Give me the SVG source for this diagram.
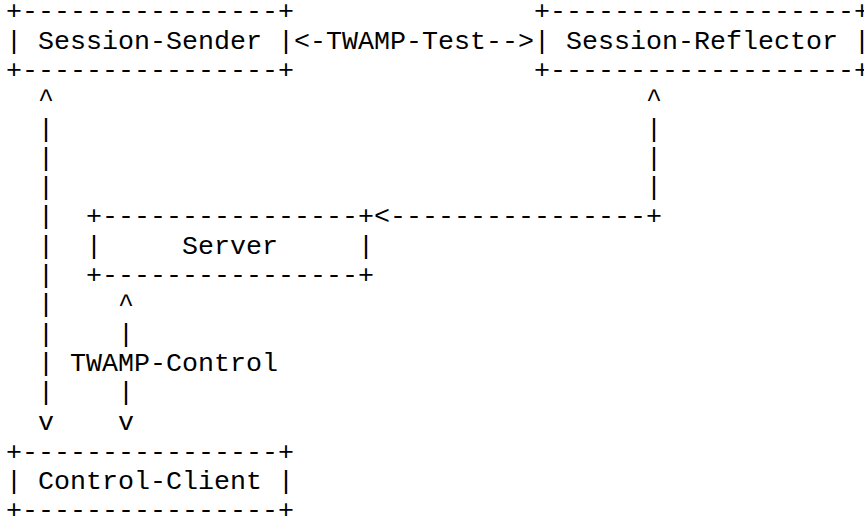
<svg xmlns="http://www.w3.org/2000/svg" width="864" height="517" viewBox="0 0 864 517">
<style>
text{font-family:"Liberation Mono","Courier New",monospace;font-size:26.667px;fill:#000;white-space:pre}
</style>
<rect width="864" height="517" fill="#fff"/>
<g id="session-sender">
<text x="6" y="19.2">+----------------+</text>
<text x="6" y="48.55">| Session-Sender |</text>
<text x="6" y="77.9">+----------------+</text>
</g>
<g id="session-reflector">
<text x="534" y="19.2">+-------------------+</text>
<text x="534" y="48.55">| Session-Reflector |</text>
<text x="534" y="77.9">+-------------------+</text>
</g>
<g id="server">
<text x="86" y="224.3">+----------------+</text>
<text x="86" y="253.65">|     Server     |</text>
<text x="86" y="283">+----------------+</text>
</g>
<g id="control-client">
<text x="6" y="459.5">+----------------+</text>
<text x="6" y="488.85">| Control-Client |</text>
<text x="6" y="518.2">+----------------+</text>
</g>
<g id="connectors">
<g id="twamp-test">
<text x="294" y="48.55">&lt;-TWAMP-Test--&gt;</text>
</g>
<g id="sender-client">
<text x="38" y="107.25">^</text>
<text x="38" y="136.6">|</text>
<text x="38" y="165.95">|</text>
<text x="38" y="195.3">|</text>
<text x="38" y="224.3">|</text>
<text x="38" y="253.65">|</text>
<text x="38" y="283">|</text>
<text x="38" y="312.35">|</text>
<text x="38" y="341.7">|</text>
<text x="38" y="371.05">|</text>
<text x="38" y="400.4">|</text>
<text x="38" y="429.75">v</text>
</g>
<g id="reflector-server">
<text x="646" y="107.25">^</text>
<text x="646" y="136.6">|</text>
<text x="646" y="165.95">|</text>
<text x="646" y="195.3">|</text>
<text x="374" y="224.3">&lt;----------------+</text>
</g>
<g id="twamp-control">
<text x="118" y="312.35">^</text>
<text x="118" y="341.7">|</text>
<text x="70" y="371.05">TWAMP-Control</text>
<text x="118" y="400.4">|</text>
<text x="118" y="429.75">v</text>
</g>
</g>
</svg>
